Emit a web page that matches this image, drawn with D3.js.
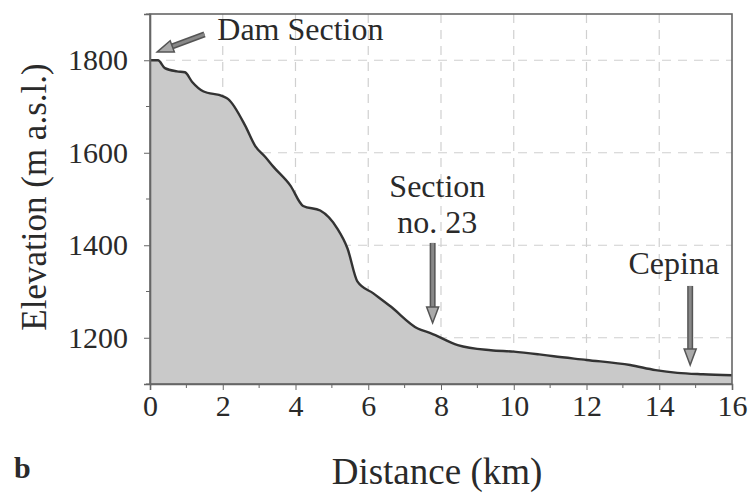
<!DOCTYPE html>
<html><head><meta charset="utf-8">
<script src="https://cdn.jsdelivr.net/npm/d3@7"></script>
<style>body{margin:0;background:#fff}svg{display:block}</style>
</head><body>
<svg id="c" width="752" height="500"></svg>
<script>
// Profile: distance (km) and elevation (m a.s.l.)
const distance = [0,0.22,0.41,0.74,0.96,1.16,1.46,2.01,2.15,2.62,2.89,3.17,3.39,3.86,4.21,4.68,5.15,5.43,5.70,6.14,6.61,7.36,7.71,8.46,9.37,10.0,10.7,11.1,12.0,13.2,13.9,14.5,15.2,16];
const elevation = [1800,1800,1783,1776,1774,1753,1733,1722,1716,1658,1615,1591,1570,1529,1485,1475,1436,1393,1322,1296,1268,1220,1210,1184,1173,1170,1164,1160,1152,1141,1130,1124,1121,1119];
const xTicks = [0,2,4,6,8,10,12,14,16];
const yTicks = [1200,1400,1600,1800];
const xMinor = [1,3,5,7,9,11,13,15];
const yMinor = [1100,1300,1500,1700,1900];
// annotations: label lines, arrow start/end in data units
const annotations = [
  {lines:["Dam Section"], tx:1.85, ty:1844, anchor:"start", from:[1.5,1856], to:[0.2,1818]},
  {lines:["Section","no. 23"], tx:7.9, ty:1505, anchor:"middle", from:[7.77,1405], to:[7.77,1232]},
  {lines:["Cepina"], tx:14.4, ty:1338, anchor:"middle", from:[14.85,1312], to:[14.85,1141]}
];

const FONT = '"Liberation Serif","Times New Roman",serif';
const TXT = "#2a2a2a";
const svg = d3.select("#c");
const L=150,R=732,T=14,B=384;
const x = d3.scaleLinear().domain([0,16]).range([L,R]);
const y = d3.scaleLinear().domain([1100,1900]).range([B,T]);
const data = distance.map((d,i)=>({d, e:elevation[i]}));

// gridlines
const g = svg.append("g");
g.selectAll(".vg").data(xTicks.slice(1,-1)).join("line")
  .attr("x1",d=>x(d)).attr("x2",d=>x(d)).attr("y1",T).attr("y2",B)
  .attr("stroke","#d0d0d0").attr("stroke-width",1.2).attr("stroke-dasharray","9,7");
g.selectAll(".hg").data(yTicks).join("line")
  .attr("x1",L).attr("x2",R).attr("y1",d=>y(d)).attr("y2",d=>y(d))
  .attr("stroke","#d0d0d0").attr("stroke-width",1.2).attr("stroke-dasharray","9,7");

// area
const area = d3.area().x(d=>x(d.d)).y0(B).y1(d=>y(d.e)).curve(d3.curveMonotoneX);
const line = d3.line().x(d=>x(d.d)).y(d=>y(d.e)).curve(d3.curveMonotoneX);
svg.append("path").datum(data).attr("d",area).attr("fill","#c9c9c9");
svg.append("path").datum(data).attr("d",line).attr("fill","none").attr("stroke","#333").attr("stroke-width",2.4).attr("stroke-linejoin","round");

// frame
svg.append("rect").attr("x",L).attr("y",T).attr("width",R-L).attr("height",B-T)
  .attr("fill","none").attr("stroke","#666").attr("stroke-width",1.6);

// axes
const xAxis = d3.axisBottom(x).tickValues(xTicks).tickSize(6).tickPadding(5).tickFormat(d3.format("d"));
const gx = svg.append("g").attr("transform",`translate(0,${B})`).call(xAxis);
gx.append("g").selectAll("line").data(xMinor).join("line").attr("x1",d=>x(d)).attr("x2",d=>x(d)).attr("y1",0).attr("y2",4).attr("stroke","#666");
const yAxis = d3.axisLeft(y).tickValues(yTicks).tickSize(6).tickPadding(16).tickFormat(d3.format("d"));
const gy = svg.append("g").attr("transform",`translate(${L},0)`).call(yAxis);
gy.append("g").selectAll("line").data(yMinor).join("line").attr("y1",d=>y(d)).attr("y2",d=>y(d)).attr("x1",0).attr("x2",-4).attr("stroke","#666");
[gx,gy].forEach(a=>{a.select(".domain").attr("stroke","#666").attr("stroke-width",1.6);
  a.selectAll(".tick line").attr("stroke","#666");
  a.selectAll("text").style("font-family",FONT).style("font-size","30px").style("fill",TXT);});

function txt(){return svg.append("text").style("font-family",FONT).style("fill",TXT);}
// axis titles
txt().attr("x",(L+R)/2-4).attr("y",484).attr("text-anchor","middle").style("font-size","37px").text("Distance (km)");
txt().attr("transform",`translate(46,197) rotate(-90)`).attr("text-anchor","middle").style("font-size","35px").text("Elevation (m a.s.l.)");
txt().attr("x",14).attr("y",478).style("font-size","30px").style("font-weight","bold").text("b");

// annotations
annotations.forEach(a=>{
  const t = txt().attr("x",x(a.tx)).attr("y",y(a.ty)).attr("text-anchor",a.anchor).style("font-size","32px");
  a.lines.forEach((s,i)=>t.append("tspan").attr("x",x(a.tx)).attr("dy",i?36:0).text(s));
  const x1=x(a.from[0]),y1=y(a.from[1]),x2=x(a.to[0]),y2=y(a.to[1]);
  const ang=Math.atan2(y2-y1,x2-x1), hl=16, hw=6;
  const bx=x2-hl*Math.cos(ang), by=y2-hl*Math.sin(ang);
  svg.append("line").attr("x1",x1).attr("y1",y1).attr("x2",bx).attr("y2",by)
    .attr("stroke","#555").attr("stroke-width",6);
  svg.append("line").attr("x1",x1).attr("y1",y1).attr("x2",bx).attr("y2",by)
    .attr("stroke","#888").attr("stroke-width",3);
  const px=-Math.sin(ang), py=Math.cos(ang);
  svg.append("path").attr("d",`M${x2},${y2}L${bx+px*hw},${by+py*hw}L${bx-px*hw},${by-py*hw}Z`)
    .attr("fill","#aaa").attr("stroke","#555").attr("stroke-width",1.5);
});
</script></body></html>
